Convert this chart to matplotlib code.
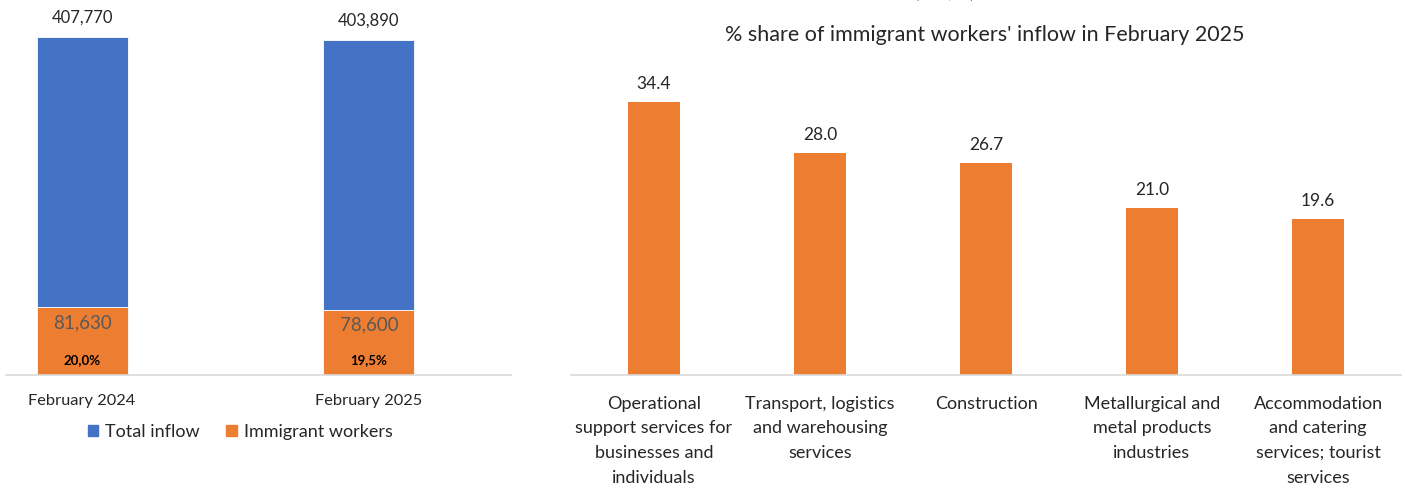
import matplotlib.pyplot as plt
from matplotlib.patches import Patch

plt.rcParams['font.family'] = ['Lato', 'DejaVu Sans']

# left chart data
periods = ["February 2024", "February 2025"]
total_inflow = [407770, 403890]
immigrant = [81630, 78600]
immigrant_share = ["20,0%", "19,5%"]

# right chart data
sectors = [
    "Operational\nsupport services for\nbusinesses and\nindividuals",
    "Transport, logistics\nand warehousing\nservices",
    "Construction",
    "Metallurgical and\nmetal products\nindustries",
    "Accommodation\nand catering\nservices; tourist\nservices",
]
sector_share = [34.4, 28.0, 26.7, 21.0, 19.6]

BLUE = "#4472C4"
ORANGE = "#ED7D31"
GRID = "#D9D9D9"
W, H = 1405, 488


def box(x0, y_top, x1, y_bot):
    # pixel box -> figure fraction
    return [x0 / W, 1 - y_bot / H, (x1 - x0) / W, (y_bot - y_top) / H]


fig = plt.figure(figsize=(W / 100, H / 100), dpi=100)

# ---- left: stacked bars
ax1 = fig.add_axes(box(6, 20, 511, 375))
xs = range(len(periods))
rest = [t - i for t, i in zip(total_inflow, immigrant)]
ax1.bar(xs, immigrant, width=0.317, color=ORANGE, edgecolor="white", linewidth=0.6)
ax1.bar(xs, rest, bottom=immigrant, width=0.317, color=BLUE, edgecolor="white", linewidth=0.6)
ax1.set_xlim(-0.265, 1.495)
ax1.set_ylim(0, 407770 * 355 / 338)
for x, t, i, s in zip(xs, total_inflow, immigrant, immigrant_share):
    ax1.annotate(f"{t:,}", (x, t), xytext=(0, 14), textcoords="offset points",
                 ha="center", va="center", fontsize=12, color="#262626")
    ax1.annotate(f"{i:,}", (x, i), xytext=(0, -11), textcoords="offset points",
                 ha="center", va="center", fontsize=13.5, color="#595959")
    ax1.annotate(s, (x, 0), xytext=(0, 11), textcoords="offset points",
                 ha="center", va="center", fontsize=9.5, fontweight="bold", color="black")
ax1.set_xticks(list(xs))
ax1.set_xticklabels(periods, fontsize=11.8, color="#262626")
ax1.tick_params(axis="x", length=0, pad=14)
ax1.set_yticks([])
for sp in ["top", "right", "left"]:
    ax1.spines[sp].set_visible(False)
ax1.spines["bottom"].set_color(GRID)
ax1.spines["bottom"].set_linewidth(1.2)

handles = [Patch(color=BLUE, label="Total inflow"), Patch(color=ORANGE, label="Immigrant workers")]
fig.legend(handles=handles, loc="center", bbox_to_anchor=(240 / W, 1 - 432 / H), ncol=2,
           frameon=False, fontsize=13, handlelength=0.6, handleheight=0.6,
           handletextpad=0.35, columnspacing=1.5, labelcolor="#262626")

# ---- right: sector shares
ax2 = fig.add_axes(box(571, 60, 1401, 375))
pos = range(len(sectors))
ax2.bar(pos, sector_share, width=0.313, color=ORANGE)
ax2.set_xlim(-0.5, 4.5)
ax2.set_ylim(0, 315 / 7.94)
for x, v in zip(pos, sector_share):
    ax2.annotate(f"{v:.1f}", (x, v), xytext=(0, 13), textcoords="offset points",
                 ha="center", va="center", fontsize=12.5, color="#262626")
ax2.set_xticks(list(pos))
ax2.set_xticklabels(sectors, fontsize=13, color="#262626", linespacing=1.66, va="top")
ax2.tick_params(axis="x", length=0, pad=15)
ax2.set_yticks([])
for sp in ["top", "right", "left"]:
    ax2.spines[sp].set_visible(False)
ax2.spines["bottom"].set_color(GRID)
ax2.spines["bottom"].set_linewidth(1.2)

fig.text(985 / W, 1 - 35 / H, "% share of immigrant workers' inflow in February 2025",
         ha="center", va="center", fontsize=15.5, color="#262626")

# top title cut off by the crop
fig.text(945 / W, 1 + 2 / H, "(abs., %)", ha="center", va="baseline",
         fontsize=12, fontweight="bold", color="black")

fig.savefig("out.png", dpi=100)
